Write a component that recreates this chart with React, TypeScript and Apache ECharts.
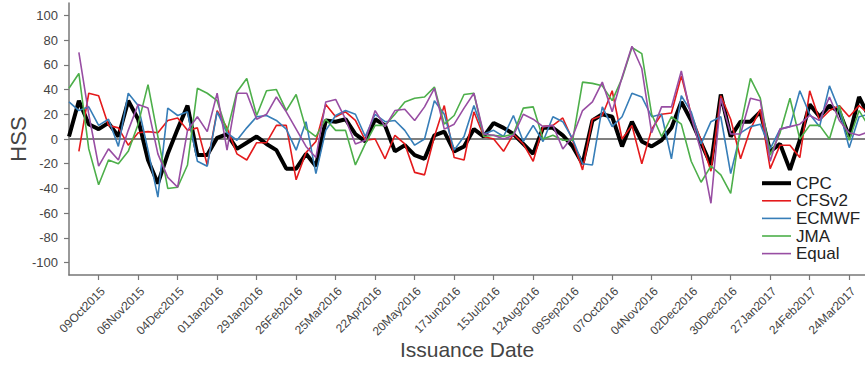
import React, { useEffect, useRef } from "react";
import * as echarts from "echarts";

const seriesNames = ["CPC", "CFSv2", "ECMWF", "JMA", "Equal"];
const seriesColors = ["#000000", "#e41a1c", "#377eb8", "#4daf4a", "#984ea3"];
const seriesWidths = [4, 1.6, 1.6, 1.6, 1.6];

const tickIndices = [3, 7, 11, 15, 19, 23, 27, 31, 35, 39, 43, 47, 51, 55, 59, 63, 67, 71, 75, 79];
const tickLabels = [
  "09Oct2015", "06Nov2015", "04Dec2015", "01Jan2016", "29Jan2016", "26Feb2016", "25Mar2016",
  "22Apr2016", "20May2016", "17Jun2016", "15Jul2016", "12Aug2016", "09Sep2016", "07Oct2016",
  "04Nov2016", "02Dec2016", "30Dec2016", "27Jan2017", "24Feb2017", "24Mar2017",
];
const yTicks = [-100, -80, -60, -40, -20, 0, 20, 40, 60, 80, 100];

const cpc = [
  2, 31, 12, 8, 13, 2, 31, 16, -17, -36,
  -12, 8, 27, -13, -13, 1, 4, -8, -3, 2,
  -4, -9, -24, -24, -12, -22, 15, 14, 16, 4,
  -2, 16, 11, -10, -5, -13, -16, 3, 6, -10,
  -6, 8, 2, 13, 9, 4, -4, -12, 9, 9,
  3, -6, -20, 15, 20, 18, -6, 14, -2, -6,
  -1, 9, 30, 15, -3, -21, 36, 2, 14, 14,
  22, -10, -4, -25, -1, 28, 18, 27, 22, 2,
  34, 18,
];
const cfsv2 = [
  null, -10, 37, 35, 11, 9, -5, 5, 6, 5,
  15, 17, 7, 9, -21, 23, 9, -12, -17, -3,
  -3, 11, 11, -33, -11, -2, 28, 18, 22, 15,
  -1, 0, -16, 3, -4, -27, -29, 2, 27, -15,
  -17, 22, 2, 0, -10, 4, -4, -18, 10, 11,
  17, -1, -25, 16, 19, 39, 0, 11, -20, 8,
  20, 21, 51, 20, -1, -26, 35, 16, -16, 8,
  24, -24, -5, -5, -15, 39, 15, 23, 27, 18,
  27, 20,
];
const ecmwf = [
  30, 23, 26, 11, 16, -6, 37, 27, -9, -47,
  25, 19, 22, -18, -22, 22, 5, -1, 9, 18,
  19, 15, 8, -9, 14, -28, 7, 19, 23, 20,
  2, 20, 14, 15, 7, -5, 0, 31, 20, -9,
  2, 27, 4, 7, 2, 19, -2, 11, -2, 18,
  14, 0, -20, -21, 26, 10, 18, 37, 34, 18,
  20, -16, 35, 22, -4, 14, 18, -28, 5, 10,
  12, -8, 8, 10, 39, 20, 10, 43, 23, -7,
  18, 20,
];
const jma = [
  41, 53, -8, -37, -17, -20, -10, 12, 44, 2,
  -40, -39, -21, 41, 37, 31, 6, 38, 49, 19,
  39, 40, 23, 36, 8, 2, 16, 7, 7, -21,
  -4, 11, 11, 20, 30, 33, 34, 42, 12, 19,
  36, 37, 2, 3, 2, 4, 25, 26, 0, 3,
  -1, -1, 46, 45, 43, 31, 49, 74, 69, 20,
  2, 18, 12, -18, -35, -22, -29, -44, 10, 49,
  33, -13, 5, 33, 0, 11, 11, 0, 27, -1,
  23, 10,
];
const equal = [
  null, 70, 20, -22, -8, -17, 7, 28, 25, -12,
  -31, -39, 7, 18, 6, 37, -9, 37, 37, 16,
  20, 34, 22, 8, -6, -15, 30, 32, 16, -4,
  -1, 23, 10, 23, 24, 15, 26, 41, 8, 12,
  25, 37, 4, 3, 0, 3, 20, 16, 10, 11,
  -8, 2, 23, 30, 46, 22, 50, 75, 57, 5,
  26, 26, 55, 18, -10, -52, 33, 4, 4, 33,
  31, -18, 8, 10, 12, 19, 15, 34, 15, 5,
  3, 6,
];

const seriesValues = [cpc, cfsv2, ecmwf, jma, equal];

export default function App() {
  const ref = useRef<HTMLDivElement>(null);
  useEffect(() => {
    if (!ref.current) return;
    const chart = echarts.init(ref.current, undefined, { renderer: "svg" });
    const font = "'Liberation Sans', Arial, Helvetica, sans-serif";
    const axisColor = "#777777";
    const series: any[] = seriesValues.map((vals, k) => ({
      name: seriesNames[k],
      type: "line",
      data: vals.map((v, i) => [i, v]),
      symbol: "none",
      connectNulls: false,
      clip: true,
      lineStyle: { color: seriesColors[k], width: seriesWidths[k] },
      itemStyle: { color: seriesColors[k] },
      z: 2 + k,
    }));
    series[0].markLine = {
      silent: true,
      symbol: "none",
      label: { show: false },
      lineStyle: { color: "#808080", width: 2, type: "solid" },
      data: [{ yAxis: 0 }],
      z: 1,
    };
    chart.setOption({
      animation: false,
      backgroundColor: "#ffffff",
      grid: { left: 69, right: 0, top: 3, bottom: 90, containLabel: false, outerBoundsMode: "none" },
      legend: {
        orient: "vertical",
        left: 760,
        top: 174.7,
        padding: 0,
        itemWidth: 29,
        itemHeight: 14,
        itemGap: 0.6,
        textStyle: { fontFamily: font, fontSize: 17, color: "#222" },
        data: seriesNames.map((n, k) => ({
          name: n,
          itemStyle: { opacity: 0 },
          lineStyle: { width: seriesWidths[k] },
        })),
      },
      xAxis: {
        type: "value",
        min: 0,
        max: 80.6,
        name: "Issuance Date",
        nameLocation: "middle",
        nameGap: 64,
        nameMoveOverlap: false,
        nameTextStyle: { fontFamily: font, fontSize: 21, color: "#444" },
        axisLine: { onZero: false, lineStyle: { color: axisColor, width: 1.5 } },
        axisTick: { customValues: tickIndices, length: 5, lineStyle: { color: axisColor, width: 1.2 } },
        axisLabel: {
          customValues: tickIndices,
          rotate: 45,
          fontFamily: font,
          fontSize: 12,
          color: "#444",
          margin: 10,
          verticalAlign: "top",
          formatter: (v: number) => {
            const idx = tickIndices.indexOf(Math.round(v));
            return idx >= 0 ? tickLabels[idx] : "";
          },
        },
        splitLine: { show: false },
      },
      yAxis: {
        type: "value",
        min: -110,
        max: 110,
        name: "HSS",
        nameLocation: "middle",
        nameGap: 40,
        nameMoveOverlap: false,
        nameRotate: 90,
        nameTextStyle: { fontFamily: font, fontSize: 22, color: "#444" },
        axisLine: { show: true, onZero: false, lineStyle: { color: axisColor, width: 1.5 } },
        axisTick: { show: true, customValues: yTicks, length: 5, lineStyle: { color: axisColor, width: 1.2 } },
        axisLabel: {
          customValues: yTicks,
          fontFamily: font,
          fontSize: 13,
          color: "#444",
          margin: 11,
        },
        splitLine: { show: false },
      },
      series,
    });
    return () => chart.dispose();
  }, []);
  return <div ref={ref} style={{ width: 865, height: 365, position: "absolute", left: 0, top: 0 }} />;
}
